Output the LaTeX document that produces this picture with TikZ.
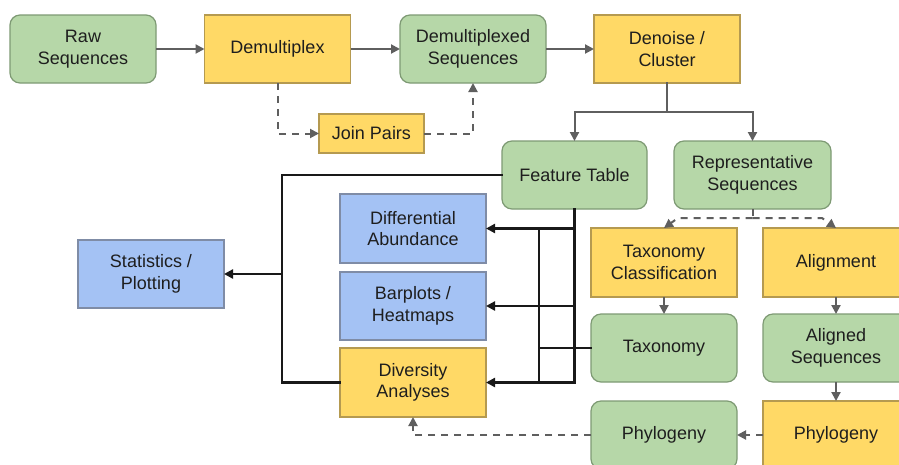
\documentclass[tikz,border=0pt]{standalone}
\usepackage{fontspec}
\setmainfont{Liberation Sans}
\usetikzlibrary{arrows.meta,calc}
\definecolor{gfill}{HTML}{B6D7A8}
\definecolor{gline}{HTML}{7E9A74}
\definecolor{yfill}{HTML}{FFD966}
\definecolor{yline}{HTML}{B59A50}
\definecolor{bfill}{HTML}{A4C2F4}
\definecolor{bline}{HTML}{7F8CA6}
\definecolor{acol}{HTML}{5F5F5F}
\definecolor{tcol}{HTML}{1E1E1E}
\tikzset{
  box/.style={minimum width=146pt, minimum height=68pt, inner sep=0pt, outer sep=0pt,
    align=center, line width=1.2pt, text=tcol,
    font=\fontsize{18}{21.5}\selectfont},
  gbox/.style={box, draw=gline, fill=gfill, rounded corners=10pt},
  ybox/.style={box, draw=yline, fill=yfill},
  bbox/.style={box, draw=bline, fill=bfill},
  garrow/.style={draw=acol, line width=2pt, -{Triangle[length=9pt,width=9pt]}},
  gdash/.style={draw=acol, line width=2pt, dash pattern=on 7pt off 6pt},
  gdasharrow/.style={gdash, -{Triangle[length=9pt,width=9pt]}},
  blk/.style={draw=black!90, line width=2.2pt, line cap=rect},
  blkarrow/.style={blk, -{Triangle[length=9pt,width=9pt]}},
}
\begin{document}
\begin{tikzpicture}[x=1pt,y=-1pt]
\path[use as bounding box] (0,0) rectangle (899,464);
\clip (0,0) rectangle (899,464);
\fill[white] (0,0) rectangle (899,464);
% nodes
\node[gbox] (raw) at (83,49) {Raw\\Sequences};
\node[ybox] (demux) at (277.5,49) {Demultiplex};
\node[gbox] (dmseq) at (473,49) {Demultiplexed\\Sequences};
\node[ybox] (denoise) at (667,49) {Denoise /\\Cluster};
\node[ybox, minimum width=105pt, minimum height=39pt] (join) at (371.5,133.5) {Join Pairs};
\node[gbox, minimum width=145pt] (feat) at (574.5,175) {Feature Table};
\node[gbox, minimum width=157pt] (rep) at (752.5,175) {Representative\\Sequences};
\node[bbox] (stats) at (151,274) {Statistics /\\Plotting};
\node[bbox, minimum height=69pt] (diff) at (413,228.5) {Differential\\Abundance};
\node[bbox] (bar) at (413,306) {Barplots /\\Heatmaps};
\node[ybox, minimum height=69pt] (div) at (413,382.5) {Diversity\\Analyses};
\node[ybox, minimum height=69pt] (taxc) at (664,262.5) {Taxonomy\\Classification};
\node[ybox, minimum height=69pt] (align) at (836,262.5) {Alignment};
\node[gbox] (tax) at (664,348) {Taxonomy};
\node[gbox] (aligned) at (836,348) {Aligned\\Sequences};
\node[gbox] (phyg) at (664,435) {Phylogeny};
\node[ybox] (phyy) at (836,435) {Phylogeny};
% coordinates
\coordinate (split) at (667,112);
\coordinate (bus) at (282,175);
\coordinate (tbus) at (539,348);
\coordinate (rsplit) at (752.5,218);
\coordinate (rl) at (678,218);
\coordinate (rr) at (822,218);
% top row
\draw[garrow] (raw) -- (demux);
\draw[garrow] (demux) -- (dmseq);
\draw[garrow] (dmseq) -- (denoise);
\draw[gdasharrow] (demux.south) |- (join.west);
\draw[gdasharrow] (join.east) -| (dmseq.south);
\draw[draw=acol, line width=2pt, line cap=rect] (denoise.south) -- (split);
\draw[garrow] (split) -| (feat.north);
\draw[garrow] (split) -| (rep.north);
% feature table outputs
\draw[blk] (feat.west) -- (bus) |- (div.west);
\draw[blkarrow] (bus |- stats.east) -- (stats.east);
\draw[blk] (feat.south) -- (feat.south |- div.east);
\draw[blkarrow] (feat.south |- diff.east) -- (diff.east);
\draw[blkarrow] (feat.south |- bar.east) -- (bar.east);
\draw[blkarrow] (feat.south |- div.east) -- (div.east);
\draw[blk] (tax.west) -- (tbus);
\draw[blk] (tbus |- diff.east) -- (tbus |- div.east);
% representative sequences branch
\draw[gdash] (rep.south) -- (rsplit);
\draw[gdasharrow] (rsplit) -- (rl) -- (taxc.north);
\draw[gdasharrow] (rsplit) -- (rr) -- (align.north);
\draw[garrow] (taxc) -- (tax);
\draw[garrow] (align) -- (aligned);
\draw[garrow] (aligned) -- (phyy);
\draw[gdasharrow] (phyy) -- (phyg);
\draw[gdasharrow] (phyg.west) -| (div.south);
\end{tikzpicture}
\end{document}
